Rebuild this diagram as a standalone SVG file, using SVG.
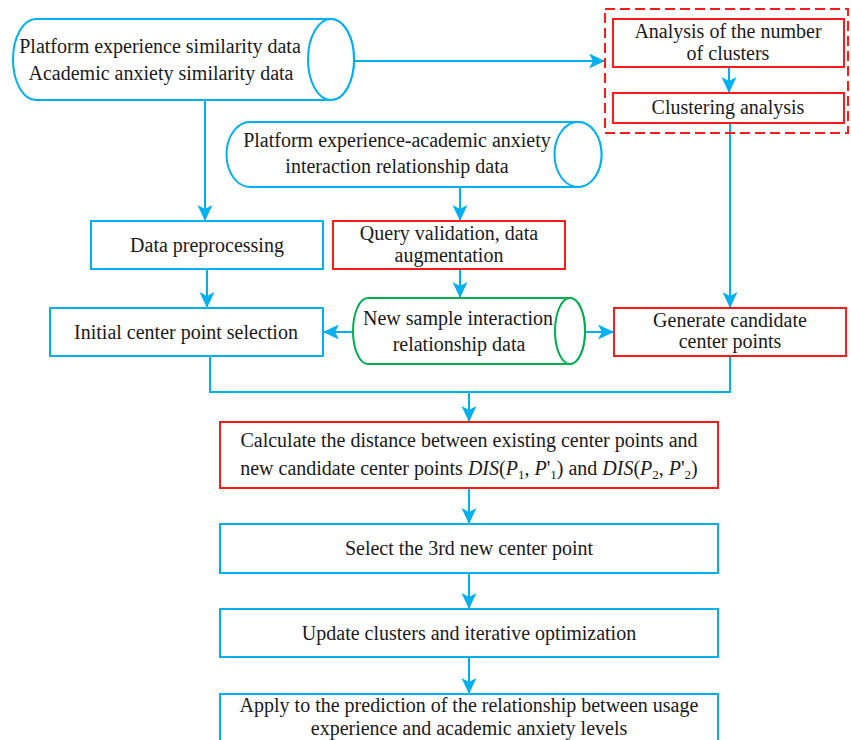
<svg xmlns="http://www.w3.org/2000/svg" width="851" height="740" viewBox="0 0 851 740">
<style>
.b{fill:#fff;stroke:#00B0F0;stroke-width:2}
.r{fill:#fff;stroke:#FF1A1A;stroke-width:2}
.g{fill:#fff;stroke:#00B050;stroke-width:2}
.dash{fill:none;stroke:#FF1A1A;stroke-width:2;stroke-dasharray:10,5}
.t{font-family:"Liberation Serif","Times New Roman",serif;font-size:20px;fill:#1a1a1a;text-anchor:middle}
.c{fill:none;stroke:#00B0F0;stroke-width:2}
.a{marker-end:url(#ah)}
.i{font-style:italic}
</style>
<defs>
<marker id="ah" markerUnits="userSpaceOnUse" markerWidth="18" markerHeight="16" refX="16" refY="7.5" orient="auto">
<path d="M0,0 L16,7.5 L0,15 L4,7.5 Z" fill="#00B0F0"/>
</marker>
</defs>
<rect width="851" height="740" fill="#fff"/>

<g id="connectors">
<path class="c a" d="M354,61 H605"/>
<path class="c a" d="M205,100 V221"/>
<path class="c a" d="M460,187 V221"/>
<path class="c a" d="M207,269 V308"/>
<path class="c a" d="M460,269 V298"/>
<path class="c a" d="M353,332 H323"/>
<path class="c a" d="M585,332 H614"/>
<path class="c a" d="M729,67 V93"/>
<path class="c a" d="M730,123 V308"/>
<path class="c" d="M210,356 V392 H730 V356"/>
<path class="c a" d="M469,392 V422"/>
<path class="c a" d="M469,488 V524"/>
<path class="c a" d="M469,573 V609"/>
<path class="c a" d="M469,657 V694"/>
</g>

<g id="similarity-data">
<path class="b" d="M36,19 H331 A23,40.5 0 0 1 331,100 H36 A23,40.5 0 0 1 36,19 Z"/>
<ellipse class="b" cx="331" cy="59.5" rx="23" ry="40.5"/>
<text class="t" x="160" y="53">Platform experience similarity data</text>
<text class="t" x="161" y="80">Academic anxiety similarity data</text>
</g>

<g id="cluster-group">
<rect class="dash" x="605" y="9" width="243" height="124"/>
</g>
<g id="num-clusters">
<rect class="r" x="613" y="19" width="231" height="48"/>
<text class="t" x="728" y="38">Analysis of the number</text>
<text class="t" x="728" y="60">of clusters</text>
</g>
<g id="clustering">
<rect class="r" x="613" y="93" width="231" height="30"/>
<text class="t" x="728" y="114">Clustering analysis</text>
</g>

<g id="interaction-data">
<path class="b" d="M250,122 H578 A23.5,32.5 0 0 1 578,187 H250 A23.5,32.5 0 0 1 250,122 Z"/>
<ellipse class="b" cx="578" cy="154.5" rx="23.5" ry="32.5"/>
<text class="t" x="397" y="147">Platform experience-academic anxiety</text>
<text class="t" x="397" y="173">interaction relationship data</text>
</g>

<g id="preprocessing">
<rect class="b" x="91" y="221" width="232" height="48"/>
<text class="t" x="207" y="252">Data preprocessing</text>
</g>

<g id="query-validation">
<rect class="r" x="333" y="221" width="232" height="48"/>
<text class="t" x="449" y="240">Query validation, data</text>
<text class="t" x="449" y="262">augmentation</text>
</g>

<g id="initial-center">
<rect class="b" x="50" y="308" width="273" height="48"/>
<text class="t" x="186" y="339">Initial center point selection</text>
</g>

<g id="new-sample">
<path class="g" d="M368,298 H570 A15,33 0 0 1 570,364 H368 A15,33 0 0 1 368,298 Z"/>
<ellipse class="g" cx="570" cy="331" rx="15" ry="33"/>
<text class="t" x="458" y="325">New sample interaction</text>
<text class="t" x="459" y="351">relationship data</text>
</g>

<g id="candidate">
<rect class="r" x="614" y="308" width="232" height="48"/>
<text class="t" x="730" y="327">Generate candidate</text>
<text class="t" x="730" y="348">center points</text>
</g>

<g id="distance">
<rect class="r" x="220" y="422" width="498" height="66"/>
<text class="t" x="469" y="447">Calculate the distance between existing center points and</text>
<text class="t" x="469" y="475">new candidate center points <tspan class="i">DIS</tspan>(<tspan class="i">P</tspan><tspan font-size="13" dy="4">1</tspan><tspan dy="-4">, </tspan><tspan class="i">P</tspan>'<tspan font-size="13" dy="4">1</tspan><tspan dy="-4">) and </tspan><tspan class="i">DIS</tspan>(<tspan class="i">P</tspan><tspan font-size="13" dy="4">2</tspan><tspan dy="-4">, </tspan><tspan class="i">P</tspan>'<tspan font-size="13" dy="4">2</tspan><tspan dy="-4">)</tspan></text>
</g>

<g id="select-third">
<rect class="b" x="220" y="524" width="498" height="49"/>
<text class="t" x="469" y="555">Select the 3rd new center point</text>
</g>

<g id="update">
<rect class="b" x="220" y="609" width="498" height="48"/>
<text class="t" x="469" y="640">Update clusters and iterative optimization</text>
</g>

<g id="apply">
<rect class="b" x="220" y="694" width="498" height="60"/>
<text class="t" x="469" y="712">Apply to the prediction of the relationship between usage</text>
<text class="t" x="469" y="735">experience and academic anxiety levels</text>
</g>
</svg>
